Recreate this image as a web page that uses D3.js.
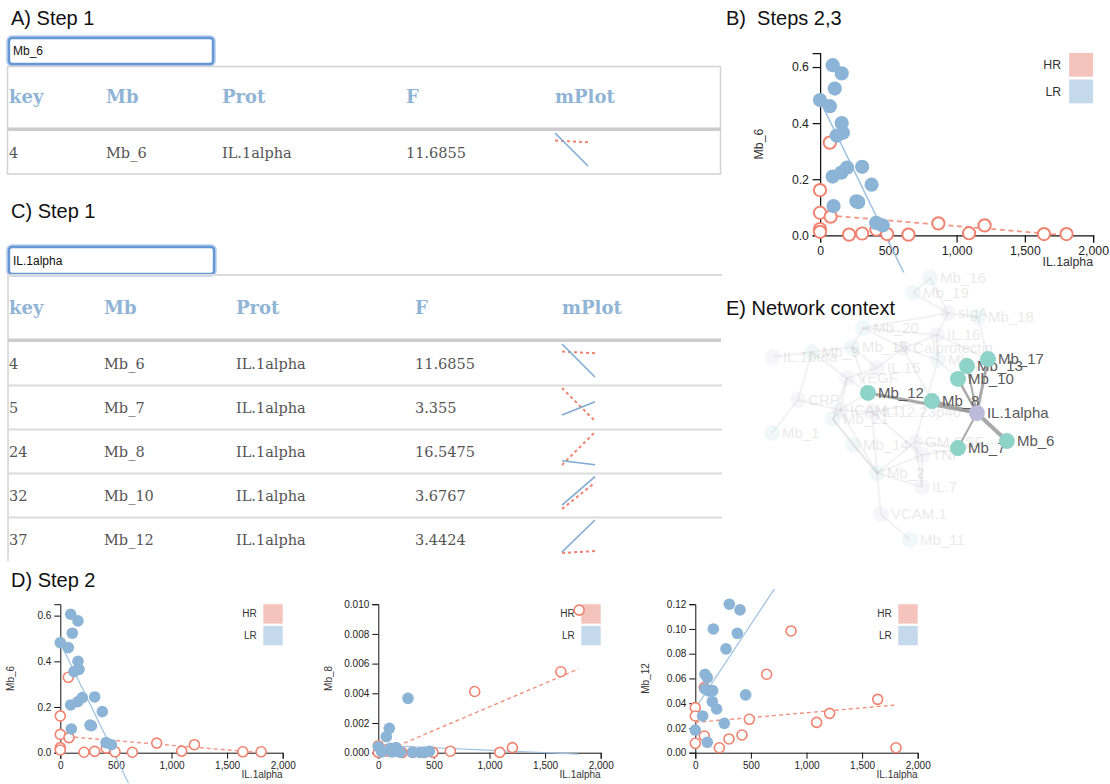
<!DOCTYPE html>
<html><head><meta charset="utf-8">
<script src="https://cdnjs.cloudflare.com/ajax/libs/d3/7.8.5/d3.min.js"></script>
<style>
html,body{margin:0;padding:0;background:#fff;}
svg{display:block;}
</style></head><body>
<svg id="fig" width="1110" height="784"></svg>
<script>
// ---------------- DATA ----------------
const titles = ["A) Step 1", "B)  Steps 2,3", "C) Step 1", "D) Step 2", "E) Network context"];
const searchA = "Mb_6";
const searchC = "IL.1alpha";
const columns = ["key", "Mb", "Prot", "F", "mPlot"];
const rowKeys = ["4", "5", "24", "32", "37"];
const rowMb = ["Mb_6", "Mb_7", "Mb_8", "Mb_10", "Mb_12"];
const rowProt = ["IL.1alpha", "IL.1alpha", "IL.1alpha", "IL.1alpha", "IL.1alpha"];
const rowF = ["11.6855", "3.355", "16.5475", "3.6767", "3.4424"];
// mini-plot fitted lines, start/end value normalised to the mini plot's range
const mplotLR = [[1, 0], [0.18, 0.58], [0.13, 0.01], [0.12, 0.98], [0.03, 1]];
const mplotHR = [[0.77, 0.72], [1, 0], [0, 1], [0, 0.8], [0, 0.06]];

const legendLabels = ["HR", "LR"];
const xLabel = "IL.1alpha";
const xTickValues = [0, 500, 1000, 1500, 2000];
const xFitRange = [0, 1800];

// Mb_6 vs IL.1alpha
const mb6HR = [[72,0.330],[0,0.161],[0,0.080],[78,0.066],[0,0.022],[0,0.012],[213,0.002],[309,0.006],[413,0.020],[492,0.004],[648,0.002],[867,0.042],[1092,0.007],[1206,0.035],[1641,0.004],[1806,0.004]];
const mb6LR = [[93,0.606],[159,0.577],[108,0.523],[0,0.482],[72,0.460],[159,0.400],[168,0.365],[123,0.355],[93,0.209],[156,0.223],[198,0.241],[309,0.244],[378,0.180],[267,0.121],[280,0.118],[99,0.104],[411,0.044],[459,0.035]];
const mb6FitLR = [0.48, -0.001];      // intercept, slope
const mb6FitHR = [0.073, -0.0000406];
const mb6YTicks = [0, 0.2, 0.4, 0.6];
const mb6YDomain = [0, 0.65];

// Mb_8 vs IL.1alpha
const mb8HR = [[1806,0.0096],[1641,0.00545],[867,0.00412],[1206,0.00034],[1092,0.00002],[648,0.0001],[492,0.00002],[0,0.00047],[0,0.00002],[78,0.0001],[213,0.00001],[309,0.00002],[413,0.00001],[72,0.0002]];
const mb8LR = [[267,0.00366],[99,0.00164],[72,0.00108],[0,0.0004],[108,0.0003],[159,0.00034],[93,0.0002],[309,0.00002],[378,0.00001],[459,0.0001],[411,0.00002],[123,0.00005],[168,0.0001],[198,0.00003],[156,0.0002],[30,0.00005]];
const mb8FitLR = [0.0005, -0.00000033];
const mb8FitHR = [-0.0001, 0.00000319];
const mb8YTicks = [0, 0.002, 0.004, 0.006, 0.008, 0.010];
const mb8YDomain = [0, 0.010];

// Mb_12 vs IL.1alpha
const mb12HR = [[861,0.0984],[642,0.0634],[81,0.0526],[0,0.0364],[0,0.0297],[486,0.0270],[1208,0.0318],[1091,0.0245],[1640,0.0431],[1805,0.0040],[420,0.0143],[303,0.0111],[81,0.0135],[0,0.0076],[216,0.0040]];
const mb12LR = [[306,0.120],[402,0.1154],[162,0.100],[378,0.0965],[276,0.0839],[87,0.0634],[108,0.0607],[87,0.0515],[156,0.0502],[120,0.0500],[153,0.0413],[192,0.0353],[453,0.0467],[66,0.0297],[261,0.0237],[0,0.0183],[108,0.0084]];
const mb12FitLR = [0.0359, 0.0001355];
const mb12FitHR = [0.0245, 0.0000078];
const mb12YTicks = [0, 0.02, 0.04, 0.06, 0.08, 0.10, 0.12];
const mb12YDomain = [0, 0.12];

// Network (layout coordinates on a 0-100 grid)
const netNames = ["IL.1alpha","Mb_6","Mb_7","Mb_8","Mb_12","Mb_10","Mb_13","Mb_17",
  "Mb_16","Mb_19","sIgA","Mb_18","Mb_20","IL.16","Calprotectin","Mb_15","IL.1beta","Mb_9","Mb_4",
  "IL.15","VEGF","CRP","ICAM.1","IL.12.23p40","Mb_21","Mb_1","Mb_14","GM.CSF","TNF","Mb_2","IL.7","VCAM.1","Mb_11"];
const netLX = [72.3,82.3,66,57.3,36,66,69,76,
  56.7,51,62.7,72.7,34.3,59,47.7,30.7,4.3,17.3,59.3,
  39,29,12.7,26.7,37.3,24.3,4,31,51.7,54,39,54,40.3,50];
const netLY = [51.1,61.1,63.6,46.8,43.9,38.9,34.3,31.8,
  2.9,8.2,15.4,16.8,20.7,23.2,27.9,27.5,31.1,29.3,32.1,
  35,38.6,46.4,50,50.7,53.2,58.2,62.5,61.4,66.1,72.5,77.5,87.1,96.4];
const focusNode = "IL.1alpha";
const focusNeighbors = ["Mb_12","Mb_8","Mb_7","Mb_6","Mb_10","Mb_13","Mb_17"];
const focusEdgeWeight = [3, 3.5, 2, 4, 2.5, 2, 3];
const bgEdges = [["Mb_16","Mb_19"],["Mb_16","sIgA"],["Mb_19","sIgA"],["sIgA","Mb_18"],["sIgA","IL.16"],["sIgA","Mb_20"],
  ["Mb_20","Mb_15"],["Mb_20","IL.16"],["Mb_20","Calprotectin"],["IL.16","Calprotectin"],["IL.16","Mb_4"],
  ["Calprotectin","Mb_4"],["Calprotectin","IL.15"],["Mb_15","Mb_9"],["Mb_9","IL.1beta"],["Mb_9","VEGF"],["Mb_9","CRP"],
  ["Mb_15","IL.15"],["IL.15","VEGF"],["VEGF","ICAM.1"],["VEGF","Mb_21"],["CRP","Mb_1"],["CRP","ICAM.1"],
  ["ICAM.1","Mb_21"],["ICAM.1","IL.12.23p40"],["Mb_21","Mb_2"],["Mb_14","Mb_2"],["ICAM.1","Mb_2"],
  ["IL.12.23p40","Mb_2"],["IL.12.23p40","TNF"],["TNF","Mb_2"],["Mb_2","IL.7"],["Mb_2","VCAM.1"],
  ["VCAM.1","Mb_11"],["IL.7","GM.CSF"],["GM.CSF","Mb_4"],["Mb_12","VEGF"],["Mb_12","ICAM.1"],
  ["Mb_8","IL.12.23p40"],["Mb_7","GM.CSF"],["Mb_10","Mb_4"],["Mb_17","IL.16"],["Mb_18","Mb_17"],
  ["Mb_14","Mb_21"],["Mb_12","Mb_15"],["IL.7","TNF"],["Mb_2","GM.CSF"],["Mb_8","Calprotectin"],["Mb_6","TNF"]];

// ---------------- STYLE ----------------
const SANS = "'Liberation Sans', Arial, Helvetica, sans-serif";
const SERIF = "'DejaVu Serif', serif";
const HEAD = "#8fb4d6";
const CELL = "#555";
const LR_COL = "#8cb4d6", HR_COL = "#f0826f";
const LR_LINE = "#9cc1e2", HR_LINE = "#f3927f";
const LR_SW = "#c5d9ec", HR_SW = "#f4c3bc";
const MB_COL = "#8dd3c7", PROT_COL = "#bebada";

const svg = d3.select("#fig");
svg.append("rect").attr("width", 1110).attr("height", 784).attr("fill", "#fff");

// ---------------- TITLES ----------------
const titlePos = [[11, 25], [726, 25], [11, 218], [11, 587], [726, 315]];
titles.forEach((t, i) => {
  svg.append("text").attr("x", titlePos[i][0]).attr("y", titlePos[i][1])
    .attr("font-family", SANS).attr("font-size", 20).attr("fill", "#111")
    .style("white-space", "pre").text(t);
});

// ---------------- INPUTS ----------------
function drawInput(x, y, w, h, val) {
  const g = svg.append("g");
  g.append("rect").attr("x", x).attr("y", y).attr("width", w).attr("height", h).attr("rx", 3)
    .attr("fill", "#fff").attr("stroke", "#b4cdee").attr("stroke-width", 5.5);
  g.append("rect").attr("x", x).attr("y", y).attr("width", w).attr("height", h).attr("rx", 3)
    .attr("fill", "#fff").attr("stroke", "#6597d4").attr("stroke-width", 2.4);
  g.append("text").attr("x", x + 4).attr("y", y + h / 2).attr("dy", "0.35em")
    .attr("font-family", SANS).attr("font-size", 12).attr("fill", "#111").text(val);
}
drawInput(9, 38, 204, 26, searchA);
drawInput(9, 247, 205, 27, searchC);

// ---------------- TABLES ----------------
function drawTable(o) {
  const g = svg.append("g");
  if (o.box) {
    g.append("rect").attr("x", 7.5).attr("y", 66.5).attr("width", 713).attr("height", 107.5)
      .attr("fill", "none").attr("stroke", "#d3d3d3").attr("stroke-width", 1.5);
  } else {
    g.append("line").attr("x1", 8).attr("x2", 722).attr("y1", o.topLine).attr("y2", o.topLine)
      .attr("stroke", "#dcdcdc").attr("stroke-width", 2);
    g.append("line").attr("x1", 8).attr("x2", 8).attr("y1", o.topLine).attr("y2", o.bottom)
      .attr("stroke", "#dcdcdc").attr("stroke-width", 2);
  }
  g.selectAll("text.hd").data(columns).join("text").attr("class", "hd")
    .attr("x", (d, i) => o.colX[i]).attr("y", o.headBase)
    .attr("font-family", SERIF).attr("font-weight", "bold").attr("font-size", 18)
    .attr("fill", HEAD).text(d => d);
  g.append("rect").attr("x", 8).attr("y", o.thickY).attr("width", 713).attr("height", 3.5).attr("fill", "#cccccc");
  o.rows.forEach((r, j) => {
    const top = o.rowTop + j * o.rowH;
    const cells = [rowKeys[r], rowMb[r], rowProt[r], rowF[r]];
    cells.forEach((c, i) => {
      g.append("text").attr("x", o.colX[i]).attr("y", top + 26.5)
        .attr("font-family", SERIF).attr("font-size", 14.5).attr("fill", CELL).text(c);
    });
    if (j < o.rows.length - 1 && !o.box) {
      g.append("line").attr("x1", 8).attr("x2", 722).attr("y1", top + o.rowH - 0.5).attr("y2", top + o.rowH - 0.5)
        .attr("stroke", "#dcdcdc").attr("stroke-width", 2);
    }
    const cx = o.colX[4];
    const sx = d3.scaleLinear().domain([0, 1]).range([cx, cx + 33]);
    const sy = d3.scaleLinear().domain([0, 1]).range([top + 35, top + 2]);
    g.append("line").attr("x1", sx(0)).attr("x2", sx(1))
      .attr("y1", sy(mplotHR[r][0])).attr("y2", sy(mplotHR[r][1]))
      .attr("stroke", HR_COL).attr("stroke-width", 2).attr("stroke-dasharray", "3,3");
    g.append("line").attr("x1", sx(0)).attr("x2", sx(1))
      .attr("y1", sy(mplotLR[r][0])).attr("y2", sy(mplotLR[r][1]))
      .attr("stroke", "#7faad3").attr("stroke-width", 1.6);
  });
}
drawTable({ box: true, colX: [9, 106, 222, 406, 555], headBase: 103, thickY: 127.5, rowTop: 131, rowH: 43, rows: [0] });
drawTable({ box: false, topLine: 275, bottom: 561, colX: [9, 104, 236, 415, 562], headBase: 314, thickY: 338.5, rowTop: 342, rowH: 44, rows: [0, 1, 2, 3, 4] });

// ---------------- NETWORK ----------------
(function () {
  const nx = d3.scaleLinear().domain([0, 100]).range([760, 1060]);
  const ny = d3.scaleLinear().domain([0, 100]).range([270, 550]);
  const pos = {};
  netNames.forEach((n, i) => pos[n] = [nx(netLX[i]), ny(netLY[i])]);
  const colorOf = n => n.startsWith("Mb_") ? MB_COL : PROT_COL;
  const focusSet = new Set([focusNode, ...focusNeighbors]);
  const g = svg.append("g");
  const bg = g.append("g");
  bg.selectAll("line").data(bgEdges).join("line")
    .attr("x1", d => pos[d[0]][0]).attr("y1", d => pos[d[0]][1])
    .attr("x2", d => pos[d[1]][0]).attr("y2", d => pos[d[1]][1])
    .attr("stroke", "#999").attr("stroke-opacity", 0.13).attr("stroke-width", 2);
  const bgNodes = netNames.filter(n => !focusSet.has(n));
  const bgn = bg.selectAll("g.n").data(bgNodes).join("g").attr("class", "n").attr("opacity", 0.12);
  bgn.append("circle").attr("cx", d => pos[d][0]).attr("cy", d => pos[d][1]).attr("r", 8).attr("fill", d => colorOf(d));
  bgn.append("text").attr("x", d => pos[d][0] + 10).attr("y", d => pos[d][1]).attr("dy", "0.35em")
    .attr("font-family", SANS).attr("font-size", 15).attr("fill", "#555").text(d => d);
  const wScale = d3.scaleLinear().domain([0, 4]).range([0, 4]);
  g.selectAll("line.fe").data(focusNeighbors).join("line").attr("class", "fe")
    .attr("x1", pos[focusNode][0]).attr("y1", pos[focusNode][1])
    .attr("x2", d => pos[d][0]).attr("y2", d => pos[d][1])
    .attr("stroke", "#9a9a9a").attr("stroke-opacity", 0.85)
    .attr("stroke-width", (d, i) => wScale(focusEdgeWeight[i]));
  const order = [...focusNeighbors.slice(0, 2), focusNode, ...focusNeighbors.slice(2)];
  const fn = g.selectAll("g.fn").data(order).join("g").attr("class", "fn");
  fn.append("circle").attr("cx", d => pos[d][0]).attr("cy", d => pos[d][1]).attr("r", 8)
    .attr("fill", d => colorOf(d));
  fn.append("text").attr("x", d => pos[d][0] + 10).attr("y", d => pos[d][1]).attr("dy", "0.35em")
    .attr("font-family", SANS).attr("font-size", 15).attr("fill", "#5a5a5a").text(d => d);
})();

// ---------------- SCATTERS ----------------
let clipN = 0;
function scatter(tx, ty, k, o) {
  const W = 222.4, H = 148.5;
  const g = svg.append("g").attr("transform", `translate(${tx},${ty}) scale(${k})`);
  const x = d3.scaleLinear().domain([0, 2000]).range([0, W]);
  const y = d3.scaleLinear().domain(o.yDomain).range([H, 0]);
  const id = "clip" + (clipN++);
  g.append("clipPath").attr("id", id).append("rect")
    .attr("x", -70).attr("y", -15).attr("width", W + 100).attr("height", 194);
  const xa = g.append("g").attr("transform", `translate(0,${H})`)
    .call(d3.axisBottom(x).tickValues(xTickValues).tickFormat(d3.format(",")));
  const ya = g.append("g").call(d3.axisLeft(y).tickValues(o.yTicks).tickFormat(d3.format(o.yFmt)));
  [xa, ya].forEach(a => {
    a.attr("font-family", SANS).attr("font-size", 10);
    a.selectAll("text").attr("fill", "#222");
    a.selectAll("path,line").attr("stroke", "#111");
  });
  g.append("text").attr("x", W).attr("y", H + 25.5).attr("text-anchor", "end")
    .attr("font-family", SANS).attr("font-size", 10).attr("fill", "#333").text(xLabel);
  g.append("text").attr("transform", `translate(-46.5,${H / 2}) rotate(-90)`).attr("text-anchor", "middle")
    .attr("font-family", SANS).attr("font-size", 10).attr("fill", "#333").text(o.yLabel);
  // legend
  const sw = 19.4;
  legendLabels.forEach((l, i) => {
    g.append("rect").attr("x", W - sw).attr("y", i * 21.7).attr("width", sw).attr("height", sw)
      .attr("fill", i === 0 ? HR_SW : LR_SW);
    g.append("text").attr("x", W - 26).attr("y", i * 21.7 + sw / 2).attr("dy", "0.35em")
      .attr("text-anchor", "end").attr("font-family", SANS).attr("font-size", 10).attr("fill", "#333").text(l);
  });
  const pl = g.append("g").attr("clip-path", `url(#${id})`);
  const fitLine = (f, col, dash) => {
    pl.append("line").attr("x1", x(xFitRange[0])).attr("x2", x(xFitRange[1]))
      .attr("y1", y(f[0] + f[1] * xFitRange[0])).attr("y2", y(f[0] + f[1] * xFitRange[1]))
      .attr("stroke", col).attr("stroke-width", dash ? 1.4 : 1.2)
      .attr("stroke-dasharray", dash ? "4,3" : null);
  };
  fitLine(o.fitLR, LR_LINE, false);
  fitLine(o.fitHR, HR_LINE, true);
  pl.selectAll("circle.hr").data(o.hr).join("circle").attr("class", "hr")
    .attr("cx", d => x(d[0])).attr("cy", d => y(d[1])).attr("r", 5)
    .attr("fill", "#fff").attr("stroke", HR_COL).attr("stroke-width", 1.6);
  pl.selectAll("circle.lr").data(o.lr).join("circle").attr("class", "lr")
    .attr("cx", d => x(d[0])).attr("cy", d => y(d[1])).attr("r", 5.8)
    .attr("fill", LR_COL);
}
const mb6Cfg = { hr: mb6HR, lr: mb6LR, fitLR: mb6FitLR, fitHR: mb6FitHR, yDomain: mb6YDomain, yTicks: mb6YTicks, yFmt: ".1f", yLabel: "Mb_6" };
scatter(820, 52.9, 1.2275, mb6Cfg);
scatter(60.3, 604.2, 1, mb6Cfg);
scatter(378.3, 604.2, 1, { hr: mb8HR, lr: mb8LR, fitLR: mb8FitLR, fitHR: mb8FitHR, yDomain: mb8YDomain, yTicks: mb8YTicks, yFmt: ".3f", yLabel: "Mb_8" });
scatter(695.3, 604.2, 1, { hr: mb12HR, lr: mb12LR, fitLR: mb12FitLR, fitHR: mb12FitHR, yDomain: mb12YDomain, yTicks: mb12YTicks, yFmt: ".2f", yLabel: "Mb_12" });
</script></body></html>
